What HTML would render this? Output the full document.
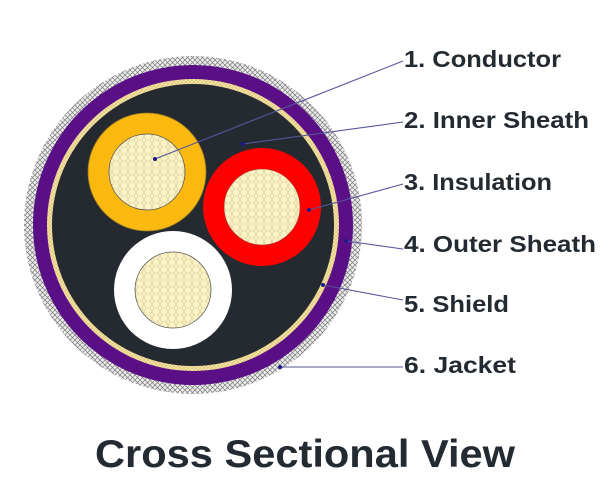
<!DOCTYPE html>
<html><head><meta charset="utf-8"><style>
html,body{margin:0;padding:0;background:#fff;width:613px;height:480px;overflow:hidden}
svg{display:block}
text{font-family:"Liberation Sans",Arial,sans-serif;font-weight:bold;fill:#232a31}
</style></head><body>
<svg width="613" height="480" viewBox="0 0 613 480" xmlns="http://www.w3.org/2000/svg">
<defs>
<pattern id="hex" width="8" height="7" patternUnits="userSpaceOnUse">
<rect width="8" height="7" fill="#fbf3c8"/>
<path d="M0 3.5 L2 0 L6 0 L8 3.5 L6 7 L2 7 Z" fill="none" stroke="#d8c98a" stroke-width="0.6"/>
</pattern>
<pattern id="mesh" width="5" height="5" patternUnits="userSpaceOnUse">
<rect width="5" height="5" fill="#eeeeee"/>
<path d="M0 0 L5 5 M5 0 L0 5" stroke="#777" stroke-width="0.7"/>
</pattern>
<pattern id="braid" width="4" height="4" patternUnits="userSpaceOnUse">
<rect width="4" height="4" fill="#f4e3a8"/>
<path d="M0 0 L4 4 M4 0 L0 4" stroke="#d2b45a" stroke-width="0.5"/>
</pattern>
</defs>
<circle cx="193" cy="225" r="169" fill="url(#mesh)"/>
<circle cx="193" cy="225" r="160" fill="#5a0f86"/>
<circle cx="193" cy="225" r="146" fill="url(#braid)"/>
<circle cx="193" cy="225" r="141" fill="#242a30"/>
<circle cx="147" cy="172" r="59" fill="#fbb90f" stroke="#9a7a20" stroke-width="0.8"/>
<circle cx="147" cy="172" r="38" fill="url(#hex)" stroke="#555" stroke-width="0.8"/>
<circle cx="262" cy="207" r="59" fill="#ff0000"/>
<circle cx="262" cy="207" r="38" fill="url(#hex)" stroke="#a33" stroke-width="0.6"/>
<circle cx="173" cy="290" r="59" fill="#ffffff"/>
<circle cx="173" cy="290" r="38" fill="url(#hex)" stroke="#555" stroke-width="0.8"/>
<g stroke="#55559a" stroke-width="1.1" fill="none">
<line x1="155" y1="159" x2="403" y2="61"/>
<line x1="243" y1="144" x2="403" y2="122"/>
<line x1="309" y1="210" x2="403" y2="184"/>
<line x1="346" y1="241" x2="403" y2="249"/>
<line x1="323" y1="285" x2="403" y2="300"/>
<line x1="280" y1="367" x2="403" y2="367"/>
</g>
<g fill="#1a1a8a">
<circle cx="155" cy="159" r="2"/><circle cx="243" cy="144" r="2"/><circle cx="309" cy="210" r="2"/>
<circle cx="346" cy="241" r="2"/><circle cx="323" cy="285" r="2"/><circle cx="280" cy="367" r="2"/>
</g>
<g font-size="23">
<text x="404" y="67" textLength="157" lengthAdjust="spacingAndGlyphs">1. Conductor</text>
<text x="404" y="128" textLength="185" lengthAdjust="spacingAndGlyphs">2. Inner Sheath</text>
<text x="404" y="190" textLength="148" lengthAdjust="spacingAndGlyphs">3. Insulation</text>
<text x="404" y="252" textLength="192" lengthAdjust="spacingAndGlyphs">4. Outer Sheath</text>
<text x="404" y="312" textLength="105" lengthAdjust="spacingAndGlyphs">5. Shield</text>
<text x="404" y="373" textLength="112" lengthAdjust="spacingAndGlyphs">6. Jacket</text>
</g>
<text x="95" y="467" font-size="39" textLength="420" lengthAdjust="spacingAndGlyphs">Cross Sectional View</text>
</svg>
</body></html>
